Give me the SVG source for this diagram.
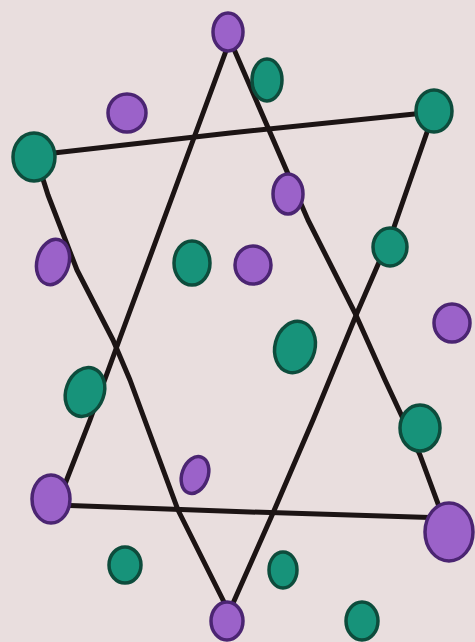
<svg xmlns="http://www.w3.org/2000/svg" width="475" height="642" viewBox="0 0 475 642">
<style>
.ln{fill:none;stroke:#1c1414;stroke-width:5;stroke-linecap:round;stroke-linejoin:round}
.p{fill:#9b62c9;stroke:#4b2572;stroke-width:3.5}
.g{fill:#17937a;stroke:#0d4c3c;stroke-width:3.5}
</style>
<rect width="475" height="642" fill="#e9dede"/>
<g id="lines">
<polyline class="ln" points="230,40 171,200 120,338 90,420 58,502"/>
<polyline class="ln" points="230,40 308,220 355,313 385,380 420,455 444,520"/>
<polyline class="ln" points="56,505 250,512 446,518"/>
<polyline class="ln" points="36,155 230,133 434,112"/>
<polyline class="ln" points="434,112 393,230 357,313 313,420 273,513 230,610"/>
<polyline class="ln" points="36,157 48,195 77,270 113,340 130,380 178,510 228,610"/>
</g>
<g id="dots">
<ellipse class="p" cx="228" cy="32" rx="15" ry="19"/>
<ellipse class="g" cx="267" cy="80" rx="15" ry="21"/>
<ellipse class="p" cx="127" cy="113" rx="19" ry="19"/>
<ellipse class="g" cx="34" cy="157" rx="21" ry="24"/>
<ellipse class="g" cx="434" cy="111" rx="18" ry="21"/>
<ellipse class="p" cx="288" cy="194" rx="15" ry="20"/>
<ellipse class="p" cx="53" cy="262" rx="16" ry="23" transform="rotate(15 53 262)"/>
<ellipse class="g" cx="192" cy="263" rx="18" ry="22"/>
<ellipse class="p" cx="253" cy="265" rx="18" ry="19"/>
<ellipse class="g" cx="390" cy="247" rx="17" ry="19"/>
<ellipse class="p" cx="452" cy="323" rx="18" ry="19"/>
<ellipse class="g" cx="295" cy="347" rx="20" ry="26" transform="rotate(15 295 347)"/>
<ellipse class="g" cx="85" cy="392" rx="19" ry="25" transform="rotate(20 85 392)"/>
<ellipse class="g" cx="420" cy="428" rx="20" ry="23"/>
<ellipse class="p" cx="195" cy="475" rx="13" ry="19" transform="rotate(20 195 475)"/>
<ellipse class="p" cx="51" cy="499" rx="19" ry="24"/>
<ellipse class="p" cx="449" cy="532" rx="24" ry="29"/>
<ellipse class="g" cx="125" cy="565" rx="16" ry="18"/>
<ellipse class="g" cx="283" cy="570" rx="14" ry="18"/>
<ellipse class="p" cx="227" cy="621" rx="16" ry="19"/>
<ellipse class="g" cx="362" cy="621" rx="16" ry="19"/>
</g>
</svg>
